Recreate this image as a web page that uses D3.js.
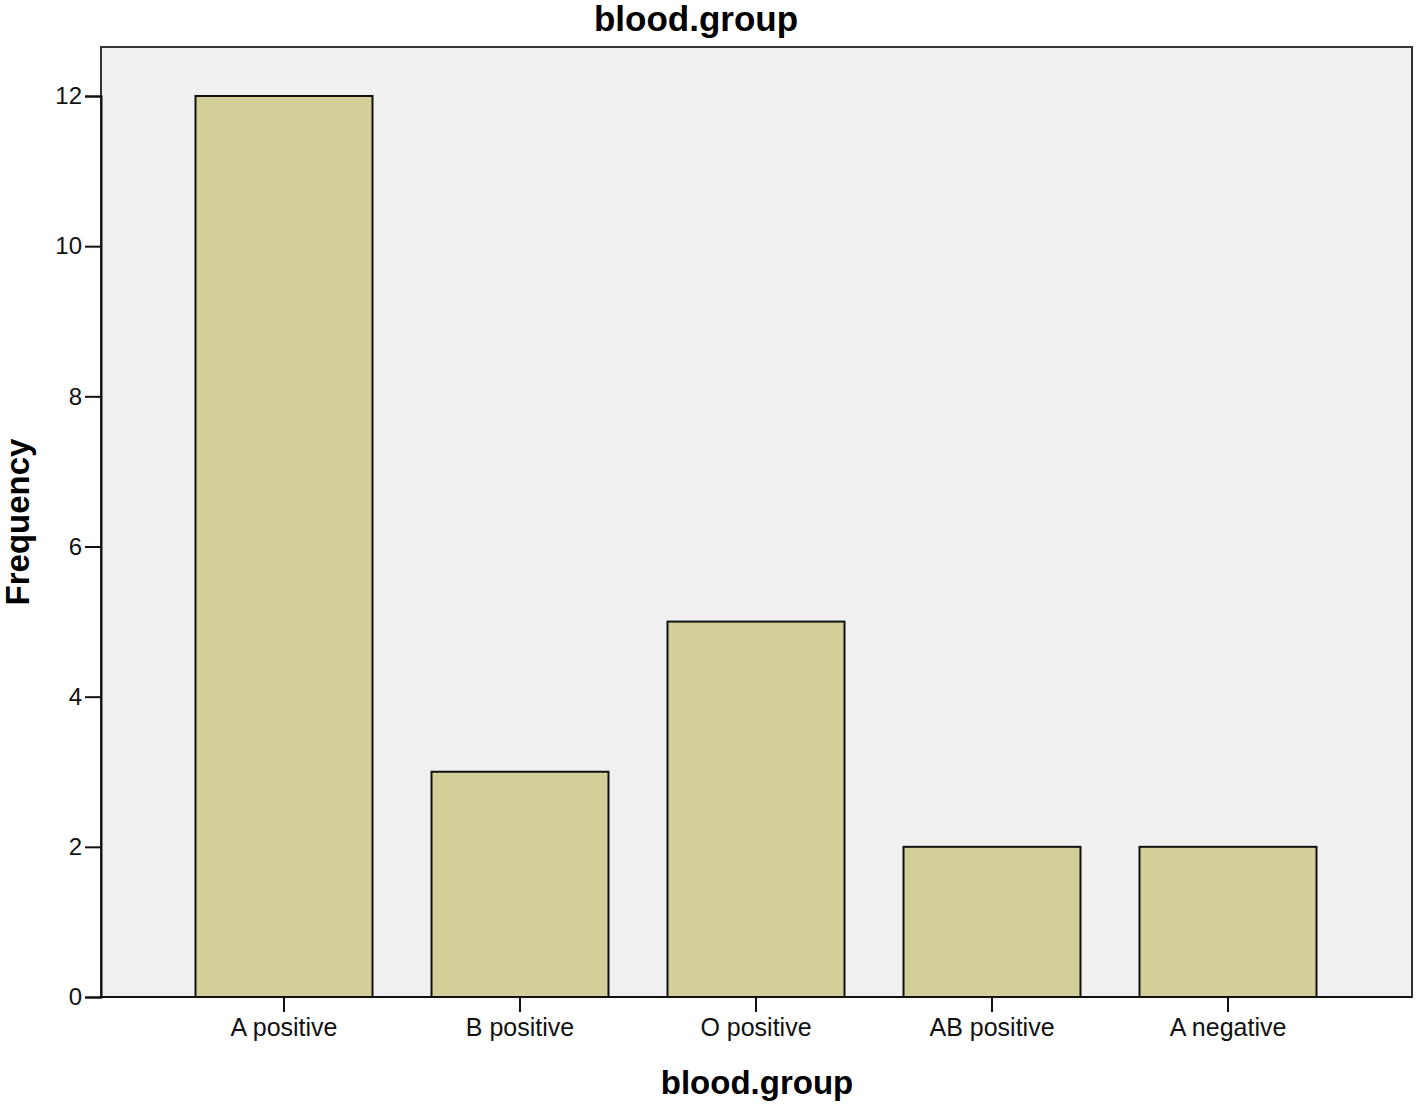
<!DOCTYPE html>
<html><head><meta charset="utf-8">
<script src="https://cdn.jsdelivr.net/npm/d3@7"></script>
<style>body{margin:0;background:#fff}</style>
</head><body>
<svg id="c" width="1418" height="1107"></svg>
<script>
const categories = ["A positive","B positive","O positive","AB positive","A negative"];
const frequencies = [12, 3, 5, 2, 2];
const yTicks = [0, 2, 4, 6, 8, 10, 12];
const titleText = "blood.group";
const xLabel = "blood.group";
const yLabel = "Frequency";

const svg = d3.select("#c");
const plot = {left:101, top:47, right:1412, bottom:997};
const x = d3.scaleBand().domain(categories).range([166,1346]).paddingInner(0.25).paddingOuter(0.125);
const y = d3.scaleLinear().domain([0,12]).range([997,96]);
const font = "'Liberation Sans', Arial, sans-serif";

svg.append("rect").attr("x",plot.left).attr("y",plot.top)
  .attr("width",plot.right-plot.left).attr("height",plot.bottom-plot.top)
  .attr("fill","#f0f0f0").attr("stroke","#333").attr("stroke-width",2);

svg.selectAll("rect.bar").data(frequencies).join("rect").attr("class","bar")
  .attr("x",(d,i)=>x(categories[i])).attr("width",x.bandwidth())
  .attr("y",d=>y(d)).attr("height",d=>y(0)-y(d))
  .attr("fill","#d3cf98").attr("stroke","#111").attr("stroke-width",2);

const yAxis = svg.append("g").attr("transform",`translate(${plot.left},0)`)
  .call(d3.axisLeft(y).tickValues(yTicks).tickSize(16).tickPadding(3).tickFormat(d3.format("d")));
yAxis.select(".domain").attr("stroke","#111").attr("stroke-width",2);
yAxis.selectAll(".tick line").attr("stroke","#111").attr("stroke-width",2);
yAxis.selectAll(".tick text").attr("font-family",font).attr("font-size",24).attr("fill","#111");

const xAxis = svg.append("g").attr("transform",`translate(0,${plot.bottom})`)
  .call(d3.axisBottom(x).tickSize(15).tickPadding(6));
xAxis.select(".domain").remove();
xAxis.selectAll(".tick line").attr("stroke","#111").attr("stroke-width",2);
xAxis.selectAll(".tick text").attr("font-family",font).attr("font-size",25).attr("fill","#111");

svg.append("line").attr("x1",plot.left).attr("x2",plot.right).attr("y1",plot.bottom).attr("y2",plot.bottom)
  .attr("stroke","#111").attr("stroke-width",2);

svg.append("text").attr("x",696).attr("y",31).attr("text-anchor","middle")
  .attr("font-family",font).attr("font-weight","bold").attr("font-size",35).attr("fill","#000").text(titleText);
svg.append("text").attr("x",757).attr("y",1094).attr("text-anchor","middle")
  .attr("font-family",font).attr("font-weight","bold").attr("font-size",33).attr("fill","#000").text(xLabel);
svg.append("text").attr("transform","translate(29,522) rotate(-90)").attr("text-anchor","middle")
  .attr("font-family",font).attr("font-weight","bold").attr("font-size",33).attr("fill","#000").text(yLabel);
</script>
</body></html>
